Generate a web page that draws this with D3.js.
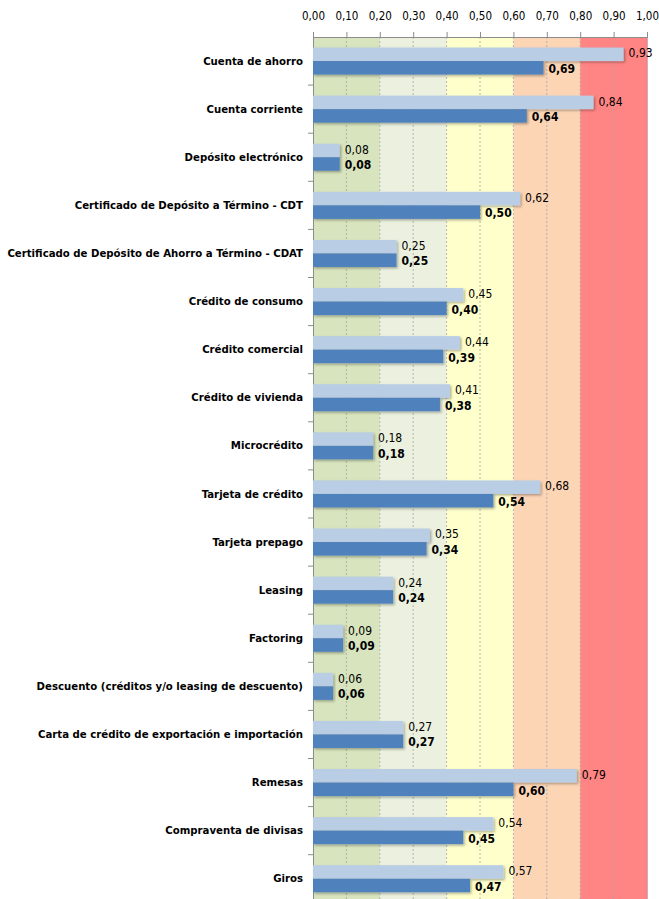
<!DOCTYPE html>
<html>
<head>
<meta charset="utf-8">
<script src="https://cdn.jsdelivr.net/npm/d3@7"></script>
<style>
	body { margin: 0; background: #fff; }
	text { font-family: "DejaVu Sans Condensed", "Liberation Sans Narrow", sans-serif; font-stretch: condensed; }
</style>
</head>
<body>
<div id="graph"></div>
<script>
const categories = [
	"Cuenta de ahorro",
	"Cuenta corriente",
	"Depósito electrónico",
	"Certificado de Depósito a Término - CDT",
	"Certificado de Depósito de Ahorro a Término - CDAT",
	"Crédito de consumo",
	"Crédito comercial",
	"Crédito de vivienda",
	"Microcrédito",
	"Tarjeta de crédito",
	"Tarjeta prepago",
	"Leasing",
	"Factoring",
	"Descuento (créditos y/o leasing de descuento)",
	"Carta de crédito de exportación e importación",
	"Remesas",
	"Compraventa de divisas",
	"Giros"
];
const seriesA = [0.93, 0.84, 0.08, 0.62, 0.25, 0.45, 0.44, 0.41, 0.18, 0.68, 0.35, 0.24, 0.09, 0.06, 0.27, 0.79, 0.54, 0.57];
const seriesB = [0.69, 0.64, 0.08, 0.50, 0.25, 0.40, 0.39, 0.38, 0.18, 0.54, 0.34, 0.24, 0.09, 0.06, 0.27, 0.60, 0.45, 0.47];
const tickValues = [0, 0.1, 0.2, 0.3, 0.4, 0.5, 0.6, 0.7, 0.8, 0.9, 1.0];
const bandStarts = [0, 0.2, 0.4, 0.6, 0.8];
const bandEnds = [0.2, 0.4, 0.6, 0.8, 1.0];
const bandColors = ["#d7e4bd", "#ebf1de", "#ffffcc", "#fcd5b5", "#ff8585"];

const width = 659, height = 899;
const margin = {top: 37, left: 313, right: 12};

const data = categories.map((c, i) => ({name: c, a: seriesA[i], b: seriesB[i]}));

const svg = d3.select("#graph")
	.append("svg")
	.attr("width", width)
	.attr("height", height);

const defs = svg.append("defs");
const shadow = defs.append("filter").attr("id", "shadow")
	.attr("x", "-5%").attr("y", "-20%").attr("width", "115%").attr("height", "160%");
shadow.append("feDropShadow")
	.attr("dx", 1.5).attr("dy", 1.5).attr("stdDeviation", 1)
	.attr("flood-color", "#000").attr("flood-opacity", 0.3);

const xScale = d3.scaleLinear()
	.domain([0, 1])
	.range([margin.left, width - margin.right]);

const yScale = d3.scaleBand()
	.domain(categories)
	.range([margin.top, margin.top + categories.length * 48.1])
	.paddingInner(0)
	.paddingOuter(0);

const subScale = d3.scaleBand()
	.domain(["a", "b"])
	.range([0, yScale.bandwidth()])
	.paddingInner(0)
	.paddingOuter(0.78);

// colored bands
svg.append("g").selectAll("rect")
	.data(bandStarts)
	.enter().append("rect")
	.attr("x", (d) => xScale(d))
	.attr("y", margin.top)
	.attr("width", (d, i) => xScale(bandEnds[i]) - xScale(d))
	.attr("height", height - margin.top)
	.attr("fill", (d, i) => bandColors[i]);

// dashed gridlines
svg.append("g").selectAll("line")
	.data(tickValues.slice(1, -1))
	.enter().append("line")
	.attr("x1", (d) => xScale(d)).attr("x2", (d) => xScale(d))
	.attr("y1", margin.top).attr("y2", height)
	.attr("stroke", "#a6a6a6")
	.attr("stroke-width", 0.8)
	.attr("stroke-dasharray", "2,2");

svg.append("line")
	.attr("x1", xScale(1)).attr("x2", xScale(1))
	.attr("y1", margin.top).attr("y2", height)
	.attr("stroke", "#d98a96").attr("stroke-width", 1.5);

const xAxis = d3.axisTop(xScale)
	.tickValues(tickValues)
	.tickSize(5)
	.tickFormat((d) => d3.format(".2f")(d).replace(".", ","));

svg.append("g")
	.attr("id", "x-axis")
	.attr("transform", "translate(0," + margin.top + ")")
	.call(xAxis)
	.call((g) => g.selectAll("path, line").attr("stroke", "#8c8c8c"))
	.call((g) => g.selectAll("text")
		.attr("font-size", 11.5)
		.attr("fill", "#000")
		.attr("y", -17));

const yAxis = d3.axisLeft(yScale).tickSize(0).tickPadding(10);

const yG = svg.append("g")
	.attr("id", "y-axis")
	.attr("transform", "translate(" + margin.left + ",0)")
	.call(yAxis);
yG.select("path").attr("stroke", "#8c8c8c");
yG.selectAll("text")
	.attr("font-size", 11.3)
	.attr("font-weight", "bold")
	.attr("fill", "#000");

// category boundary ticks
svg.append("g").selectAll("line")
	.data(categories.slice(1))
	.enter().append("line")
	.attr("x1", margin.left - 5).attr("x2", margin.left)
	.attr("y1", (d) => yScale(d)).attr("y2", (d) => yScale(d))
	.attr("stroke", "#8c8c8c");

const groups = svg.append("g").selectAll("g")
	.data(data)
	.enter().append("g")
	.attr("transform", (d) => "translate(0," + yScale(d.name) + ")");

groups.append("rect")
	.attr("x", xScale(0))
	.attr("y", subScale("a"))
	.attr("width", (d) => xScale(d.a) - xScale(0))
	.attr("height", subScale.bandwidth())
	.attr("fill", "#b9cde5")
	.attr("filter", "url(#shadow)");

groups.append("rect")
	.attr("x", xScale(0))
	.attr("y", subScale("b"))
	.attr("width", (d) => xScale(d.b) - xScale(0))
	.attr("height", subScale.bandwidth())
	.attr("fill", "#4f81bd")
	.attr("filter", "url(#shadow)");

const fmt = (v) => d3.format(".2f")(v).replace(".", ",");

groups.append("text")
	.attr("x", (d) => xScale(d.a) + 5)
	.attr("y", subScale("a") + subScale.bandwidth() / 2 - 1)
	.attr("dy", "0.35em")
	.attr("font-size", 12)
	.attr("fill", "#000")
	.text((d) => fmt(d.a));

groups.append("text")
	.attr("x", (d) => xScale(d.b) + 5)
	.attr("y", subScale("b") + subScale.bandwidth() / 2 + 1)
	.attr("dy", "0.35em")
	.attr("font-size", 12)
	.attr("font-weight", "bold")
	.attr("fill", "#000")
	.text((d) => fmt(d.b));
</script>
</body>
</html>
